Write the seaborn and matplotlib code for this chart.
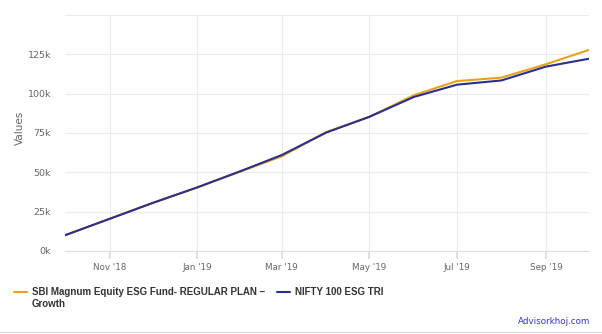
import matplotlib
matplotlib.use("Agg")
import matplotlib.pyplot as plt
import seaborn as sns
import pandas as pd
from matplotlib.lines import Line2D

dates = ["2018-10-01", "2018-11-01", "2018-12-01", "2019-01-01", "2019-02-01",
         "2019-03-01", "2019-04-01", "2019-05-01", "2019-06-01", "2019-07-01",
         "2019-08-01", "2019-09-01", "2019-10-01"]
fund_name = "SBI Magnum Equity ESG Fund- REGULAR PLAN \u2013\nGrowth"
index_name = "NIFTY 100 ESG TRI"
fund_values = [10000, 20500, 30600, 40300, 50800, 60200, 75600, 85200, 99000, 108000, 110200, 118700, 127800]
index_values = [10000, 20400, 30500, 40400, 51000, 61000, 75300, 85300, 97900, 105700, 108400, 117200, 122200]
y_ticks = [0, 25000, 50000, 75000, 100000, 125000, 150000]
y_labels = ["0k", "25k", "50k", "75k", "100k", "125k", ""]
x_ticks = ["2018-11-01", "2019-01-01", "2019-03-01", "2019-05-01", "2019-07-01", "2019-09-01"]
x_labels = ["Nov '18", "Jan '19", "Mar '19", "May '19", "Jul '19", "Sep '19"]

df = pd.DataFrame({
    "date": pd.to_datetime(dates * 2),
    "value": fund_values + index_values,
    "series": [fund_name] * len(dates) + [index_name] * len(dates),
})

sns.set_theme(style="white")
plt.rcParams["font.family"] = ["DejaVu Sans"]

fig = plt.figure(figsize=(6.02, 3.34), dpi=100)
ax = fig.add_axes([65/602, 1 - 251/334, (589-65)/602, (251-15)/334])

palette = {fund_name: "#E8A21A", index_name: "#2B2E8C"}
sns.lineplot(data=df, x="date", y="value", hue="series", palette=palette,
             linewidth=1.5, ax=ax, legend=False, hue_order=[fund_name, index_name])

ax.set_xlim(pd.Timestamp(dates[0]), pd.Timestamp(dates[-1]))
ax.set_ylim(0, 150000)
ax.set_yticks(y_ticks)
ax.set_yticklabels(y_labels)
ax.set_xticks(pd.to_datetime(x_ticks))
ax.set_xticklabels(x_labels)

ax.grid(True, color="#ebebeb", linewidth=0.8)
ax.set_axisbelow(True)
for s in ["top", "right", "left"]:
    ax.spines[s].set_visible(False)
ax.spines["bottom"].set_color("#dddddd")
ax.spines["bottom"].set_linewidth(0.8)
ax.tick_params(axis="y", length=0, labelsize=6.8, labelcolor="#666666", pad=10)
ax.tick_params(axis="x", length=6, color="#dddddd", labelsize=6.3, labelcolor="#666666", pad=3, bottom=True)
ax.set_xlabel("")
ax.set_ylabel("")
fig.text(20/602, 1 - 128/334, "Values", rotation=90, fontsize=7.5, color="#666666",
         ha="center", va="center")

# legend (drawn in figure coordinates)
lfont = {"family": ["Liberation Sans", "DejaVu Sans"], "weight": "bold", "size": 7}
fig.add_artist(Line2D([14/602, 27/602], [1 - 292/334] * 2, color=palette[fund_name],
                      lw=1.5, transform=fig.transFigure))
fig.text(32/602, 1 - 287/334, fund_name, color="#333333", ha="left", va="top",
         linespacing=1.3, fontdict=lfont)
fig.add_artist(Line2D([277/602, 290/602], [1 - 292/334] * 2, color=palette[index_name],
                      lw=1.5, transform=fig.transFigure))
fig.text(295/602, 1 - 287/334, index_name, color="#333333", ha="left", va="top",
         fontdict=lfont)

fig.text(590/602, 1 - 322/334, "Advisorkhoj.com", color="#3333dd", fontsize=6.3,
         ha="right", va="center")
fig.add_artist(Line2D([0, 1], [1 - 332/334, 1 - 332/334], color="#dddddd", lw=1,
                      transform=fig.transFigure))

fig.savefig("out.png", dpi=100, facecolor="white")
